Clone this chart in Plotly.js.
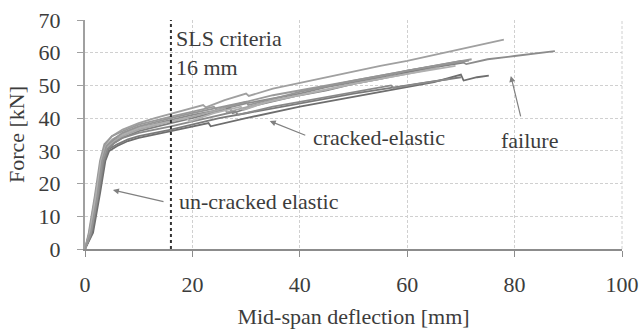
<!DOCTYPE html>
<html>
<head>
<meta charset="utf-8">
<script src="https://cdn.plot.ly/plotly-3.0.1.min.js"></script>
<style>html,body{margin:0;padding:0;background:#fff;}#chart{width:639px;height:329px;}</style>
</head>
<body>
<div id="chart"></div>
<script>
// Mid-span deflection [mm] and force [kN] for each tested specimen
const deflA = [0,0.8,2.0,3.0,3.8,5,7,10,13,16,20,22,22.5,26,30,30.5,35,40,45,50,55,60,65,70,75,78];
const forceA = [0,5,17,27,32,34.5,36.5,38.5,40,41.3,43,44,43.3,45.5,47.5,46.8,49,50.8,52.5,54.3,56,57.5,59.3,61,62.8,64];
const deflB = [0,1,2.2,3.2,4,5.5,7,10,16,20,25,30,35,40,45,50,55,60,65,70,71,75,80,85,87.5];
const forceB = [0,6,18,28,31.5,33.5,35,37,39.5,41,42.5,44.5,46,47.5,49.5,51,52.5,54.5,56,57.5,56.5,58,59,60,60.5];
const deflC = [0,0.7,1.8,2.8,3.6,5,7,10,16,20,24,24.5,30,35,40,45,50,55,60,65,70,72];
const forceC = [0,5,16,27,32,34.5,36,38,40.5,42,43.5,42.5,45,47,48.5,50,51.5,53,54.5,56,57.5,58];
const deflD = [0,1.2,2.4,3.4,4.2,5.5,7,10,16,20,27,27.5,32,40,45,50,55,60,65,70.5];
const forceD = [0,5,17,27,30.5,32.5,34,36,38.5,40,43,41.5,44,47,48.5,50.5,52,54,55.5,57];
const deflE = [0,0.9,2.2,3.3,4.1,5.5,7,10,16,20,26,26.4,34,40,50,60,66];
const forceE = [0,4,15,26,31,33,34.5,36.5,39,40.5,43,41.8,45,47,50.5,53.5,55.5];
const deflF = [0,1.5,2.8,3.8,4.5,6,8,10,16,20,23,23.4,30,40,50,55,60,65,70,70.5,73,75.2];
const forceF = [0,5,17,27,30,31.5,33,34,36,37.5,38.5,37.5,40,43.5,46.5,48,49.5,51,53.3,51.5,52.5,53];
const deflG = [0,1.3,2.6,3.6,4.4,6,8,10,16,20,25,30,35,40,50,60,70];
const forceG = [0,5,17,27,30.5,32,33.5,34.5,36.5,38,40,41.5,43,44.5,47.5,50,52.5];
const deflH = [0,1,2.4,3.4,4.2,5.5,7,10,16,20,28,28.5,35,40,50,57,57.5,62,68];
const forceH = [0,4,16,26.5,30.5,32.5,34,35.5,37.5,39,42,41,43.5,45,48,50,49.2,50.5,52];
const deflI = [0,0.8,2,3,3.9,5,7,10,16,19,19.5,24,29,29.5,34,40,50,60,69];
const forceI = [0,4,16,27,31.5,33.5,35,37,39,40,39,41.5,43.5,42.5,45,47,50.5,53.5,56];
const deflJ = [0,1.1,2.3,3.2,4,5.5,7,10,16,20,30,30.4,40,50,60,70,71.5];
const forceJ = [0,5,16,27,31.5,33.8,35.5,37.5,40,41.5,45,44,48,51.5,54.5,57.2,57.6];

const slsDeflection = 16;
const xTicks = [0,20,40,60,80,100];
const yTicks = [0,10,20,30,40,50,60,70];

const series = [
  [deflA, forceA, '#a0a0a0'],
  [deflB, forceB, '#8c8c8c'],
  [deflC, forceC, '#9a9a9a'],
  [deflD, forceD, '#7f7f7f'],
  [deflE, forceE, '#a6a6a6'],
  [deflF, forceF, '#6e6e6e'],
  [deflG, forceG, '#7a7a7a'],
  [deflH, forceH, '#8a8a8a'],
  [deflI, forceI, '#b0b0b0'],
  [deflJ, forceJ, '#959595']
];

const traces = series.map(s => ({
  x: s[0], y: s[1], type: 'scatter', mode: 'lines',
  line: {color: s[2], width: 1.8}, showlegend: false, hoverinfo: 'skip'
}));

const font = {family: 'Liberation Serif, Times New Roman, serif', size: 22, color: '#3c3c3c'};
const arrowStyle = {showarrow: true, arrowhead: 2, arrowsize: 1, arrowwidth: 1.2, arrowcolor: '#808080', axref: 'x', ayref: 'y', text: ''};

const layout = {
  width: 639, height: 329,
  margin: {l: 85, r: 17, t: 20, b: 80},
  paper_bgcolor: '#fff', plot_bgcolor: '#fff',
  font: font,
  showlegend: false,
  xaxis: {
    range: [0, 100], tickvals: xTicks, ticktext: xTicks.map(String),
    showgrid: true, gridcolor: '#d0d0d0', griddash: '3px,2px', gridwidth: 1,
    zeroline: false, showline: true, linecolor: '#8c8c8c', linewidth: 2,
    ticks: 'outside', ticklen: 6, tickcolor: '#8c8c8c', ticklabelstandoff: 9,
    tickfont: font, mirror: false,
    title: {text: 'Mid-span deflection [mm]', font: font, standoff: 14}
  },
  yaxis: {
    range: [0, 70], tickvals: yTicks, ticktext: yTicks.map(String),
    showgrid: true, gridcolor: '#d0d0d0', griddash: '3px,2px', gridwidth: 1,
    zeroline: false, showline: true, linecolor: '#a0a0a0', linewidth: 2,
    ticks: 'outside', ticklen: 6, tickcolor: '#a0a0a0', ticklabelstandoff: 12,
    tickfont: font,
    title: {text: 'Force [kN]', font: font, standoff: 8}
  },
  shapes: [
    {type: 'line', xref: 'x', yref: 'paper', x0: slsDeflection, x1: slsDeflection, y0: 0, y1: 1,
     line: {color: '#333', width: 2, dash: 'dot'}},
    {type: 'line', xref: 'paper', yref: 'paper', x0: 1, x1: 1, y0: 0, y1: 1,
     line: {color: '#d0d0d0', width: 1, dash: '3px,2px'}}
  ],
  annotations: [
    {x: 16.6, y: 59.8, xref: 'x', yref: 'y', xanchor: 'left', yanchor: 'middle', align: 'left',
     text: 'SLS criteria<br>16 mm', showarrow: false, font: font},
    {x: 54.8, y: 34.2, xref: 'x', yref: 'y', xanchor: 'center', yanchor: 'middle',
     text: 'cracked-elastic', showarrow: false, font: font},
    {x: 82.8, y: 33.3, xref: 'x', yref: 'y', xanchor: 'center', yanchor: 'middle',
     text: 'failure', showarrow: false, font: font},
    {x: 17.2, y: 14.4, xref: 'x', yref: 'y', xanchor: 'left', yanchor: 'middle',
     text: 'un-cracked elastic', showarrow: false, font: font},
    Object.assign({x: 34.4, y: 39.1, ax: 41.3, ay: 34.6, xref: 'x', yref: 'y'}, arrowStyle),
    Object.assign({x: 79.3, y: 52.9, ax: 81.2, ay: 40.1, xref: 'x', yref: 'y'}, arrowStyle),
    Object.assign({x: 5.2, y: 18.0, ax: 14.9, ay: 14.4, xref: 'x', yref: 'y'}, arrowStyle)
  ]
};

Plotly.newPlot('chart', traces, layout, {staticPlot: true, displayModeBar: false});
</script>
</body>
</html>
